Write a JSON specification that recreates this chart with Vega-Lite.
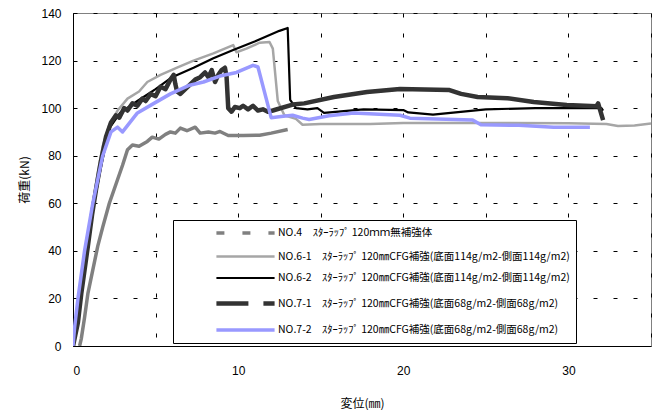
{
  "$schema": "https://vega.github.io/schema/vega-lite/v6.json",
  "width": 578,
  "height": 333,
  "autosize": "none",
  "padding": {"left": 73, "top": 13, "right": 3, "bottom": 64},
  "background": "white",
  "config": {
    "view": {"stroke": "#808080", "strokeWidth": 1},
    "axis": {
      "grid": true,
      "gridColor": "#000000",
      "gridDash": [4, 16],
      "gridWidth": 1,
      "gridOpacity": 1,
      "ticks": false,
      "tickSize": 0,
      "domainColor": "#000000",
      "domainWidth": 1,
      "labelFont": "Liberation Sans",
      "labelFontSize": 12,
      "labelColor": "#000000",
      "titleFont": "Noto Sans CJK JP",
      "titleFontSize": 12,
      "titleFontWeight": "normal",
      "titleColor": "#000000"
    }
  },
  "data": {
    "values": [
      {"s": "NO.4", "x": 0.4, "y": 0},
      {"s": "NO.4", "x": 0.5, "y": 3},
      {"s": "NO.4", "x": 0.7, "y": 12},
      {"s": "NO.4", "x": 0.9, "y": 22},
      {"s": "NO.4", "x": 1.2, "y": 32},
      {"s": "NO.4", "x": 1.5, "y": 42},
      {"s": "NO.4", "x": 1.8, "y": 50},
      {"s": "NO.4", "x": 2.2, "y": 60},
      {"s": "NO.4", "x": 2.6, "y": 68},
      {"s": "NO.4", "x": 3.0, "y": 76},
      {"s": "NO.4", "x": 3.3, "y": 82.5},
      {"s": "NO.4", "x": 3.6, "y": 84.5},
      {"s": "NO.4", "x": 4.0, "y": 84},
      {"s": "NO.4", "x": 4.5, "y": 86},
      {"s": "NO.4", "x": 4.8, "y": 87.8},
      {"s": "NO.4", "x": 5.2, "y": 87},
      {"s": "NO.4", "x": 5.6, "y": 89},
      {"s": "NO.4", "x": 5.9, "y": 90},
      {"s": "NO.4", "x": 6.2, "y": 89.5},
      {"s": "NO.4", "x": 6.5, "y": 91.6},
      {"s": "NO.4", "x": 6.9, "y": 90.5},
      {"s": "NO.4", "x": 7.4, "y": 92},
      {"s": "NO.4", "x": 7.7, "y": 89.5},
      {"s": "NO.4", "x": 8.2, "y": 90},
      {"s": "NO.4", "x": 8.6, "y": 89.5},
      {"s": "NO.4", "x": 8.9, "y": 90.2},
      {"s": "NO.4", "x": 9.4, "y": 88.5},
      {"s": "NO.4", "x": 10.3, "y": 88.5},
      {"s": "NO.4", "x": 11.3, "y": 88.6},
      {"s": "NO.4", "x": 12.0, "y": 89.5},
      {"s": "NO.4", "x": 13.0, "y": 91},

      {"s": "NO.6-1", "x": 0, "y": 0},
      {"s": "NO.6-1", "x": 0.2, "y": 10},
      {"s": "NO.6-1", "x": 0.4, "y": 22},
      {"s": "NO.6-1", "x": 0.6, "y": 33},
      {"s": "NO.6-1", "x": 0.9, "y": 46},
      {"s": "NO.6-1", "x": 1.2, "y": 60},
      {"s": "NO.6-1", "x": 1.5, "y": 73},
      {"s": "NO.6-1", "x": 1.8, "y": 84},
      {"s": "NO.6-1", "x": 2.2, "y": 93},
      {"s": "NO.6-1", "x": 2.7, "y": 99},
      {"s": "NO.6-1", "x": 3.3, "y": 104},
      {"s": "NO.6-1", "x": 4.0, "y": 107},
      {"s": "NO.6-1", "x": 4.5, "y": 111},
      {"s": "NO.6-1", "x": 5.3, "y": 114},
      {"s": "NO.6-1", "x": 6.3, "y": 117},
      {"s": "NO.6-1", "x": 7.3, "y": 120},
      {"s": "NO.6-1", "x": 8.5, "y": 123},
      {"s": "NO.6-1", "x": 9.7, "y": 126.5},
      {"s": "NO.6-1", "x": 9.9, "y": 123.5},
      {"s": "NO.6-1", "x": 10.5, "y": 125},
      {"s": "NO.6-1", "x": 11.3, "y": 127.5},
      {"s": "NO.6-1", "x": 11.9, "y": 127.8},
      {"s": "NO.6-1", "x": 12.1, "y": 125},
      {"s": "NO.6-1", "x": 12.4, "y": 103},
      {"s": "NO.6-1", "x": 12.8, "y": 97},
      {"s": "NO.6-1", "x": 13.5, "y": 95.5},
      {"s": "NO.6-1", "x": 13.9, "y": 93},
      {"s": "NO.6-1", "x": 15, "y": 93.3},
      {"s": "NO.6-1", "x": 18, "y": 93.3},
      {"s": "NO.6-1", "x": 20, "y": 93.8},
      {"s": "NO.6-1", "x": 25, "y": 93.8},
      {"s": "NO.6-1", "x": 30, "y": 93.6},
      {"s": "NO.6-1", "x": 32.3, "y": 93.3},
      {"s": "NO.6-1", "x": 33, "y": 92.5},
      {"s": "NO.6-1", "x": 34, "y": 92.7},
      {"s": "NO.6-1", "x": 35, "y": 93.5},

      {"s": "NO.6-2", "x": 0, "y": 0},
      {"s": "NO.6-2", "x": 0.2, "y": 10},
      {"s": "NO.6-2", "x": 0.4, "y": 22},
      {"s": "NO.6-2", "x": 0.55, "y": 30},
      {"s": "NO.6-2", "x": 0.85, "y": 42},
      {"s": "NO.6-2", "x": 1.1, "y": 52},
      {"s": "NO.6-2", "x": 1.33, "y": 62},
      {"s": "NO.6-2", "x": 1.6, "y": 72},
      {"s": "NO.6-2", "x": 1.9, "y": 82},
      {"s": "NO.6-2", "x": 2.25, "y": 92},
      {"s": "NO.6-2", "x": 2.85, "y": 98},
      {"s": "NO.6-2", "x": 3.9, "y": 103},
      {"s": "NO.6-2", "x": 5.0, "y": 108},
      {"s": "NO.6-2", "x": 6.0, "y": 113},
      {"s": "NO.6-2", "x": 7.3, "y": 117},
      {"s": "NO.6-2", "x": 8.5, "y": 121},
      {"s": "NO.6-2", "x": 9.7, "y": 124.4},
      {"s": "NO.6-2", "x": 11, "y": 128},
      {"s": "NO.6-2", "x": 12.5, "y": 132.5},
      {"s": "NO.6-2", "x": 13.0, "y": 133.7},
      {"s": "NO.6-2", "x": 13.15, "y": 103.5},
      {"s": "NO.6-2", "x": 13.5, "y": 100},
      {"s": "NO.6-2", "x": 14.2, "y": 99.5},
      {"s": "NO.6-2", "x": 14.8, "y": 100},
      {"s": "NO.6-2", "x": 15.2, "y": 98},
      {"s": "NO.6-2", "x": 17.6, "y": 99.5},
      {"s": "NO.6-2", "x": 20, "y": 99.2},
      {"s": "NO.6-2", "x": 20.3, "y": 98.2},
      {"s": "NO.6-2", "x": 21.8, "y": 97.3},
      {"s": "NO.6-2", "x": 25, "y": 99.5},
      {"s": "NO.6-2", "x": 28, "y": 100},
      {"s": "NO.6-2", "x": 32, "y": 100},
      {"s": "NO.6-2", "x": 32.1, "y": 99},

      {"s": "NO.7-1", "x": 0, "y": 0},
      {"s": "NO.7-1", "x": 0.3, "y": 10},
      {"s": "NO.7-1", "x": 0.5, "y": 22},
      {"s": "NO.7-1", "x": 0.7, "y": 32},
      {"s": "NO.7-1", "x": 0.9, "y": 42},
      {"s": "NO.7-1", "x": 1.15, "y": 55},
      {"s": "NO.7-1", "x": 1.4, "y": 66},
      {"s": "NO.7-1", "x": 1.7, "y": 78},
      {"s": "NO.7-1", "x": 2.0, "y": 88},
      {"s": "NO.7-1", "x": 2.3, "y": 94},
      {"s": "NO.7-1", "x": 2.6, "y": 97},
      {"s": "NO.7-1", "x": 2.8, "y": 96},
      {"s": "NO.7-1", "x": 3.1, "y": 100},
      {"s": "NO.7-1", "x": 3.3, "y": 99},
      {"s": "NO.7-1", "x": 3.6, "y": 102},
      {"s": "NO.7-1", "x": 3.9, "y": 101},
      {"s": "NO.7-1", "x": 4.2, "y": 104},
      {"s": "NO.7-1", "x": 4.4, "y": 103},
      {"s": "NO.7-1", "x": 4.7, "y": 106},
      {"s": "NO.7-1", "x": 5.0, "y": 105},
      {"s": "NO.7-1", "x": 5.3, "y": 109},
      {"s": "NO.7-1", "x": 5.6, "y": 108},
      {"s": "NO.7-1", "x": 5.9, "y": 112},
      {"s": "NO.7-1", "x": 6.1, "y": 114},
      {"s": "NO.7-1", "x": 6.2, "y": 110},
      {"s": "NO.7-1", "x": 6.3, "y": 107},
      {"s": "NO.7-1", "x": 6.5, "y": 106},
      {"s": "NO.7-1", "x": 6.8, "y": 108},
      {"s": "NO.7-1", "x": 7.1, "y": 110},
      {"s": "NO.7-1", "x": 7.4, "y": 112},
      {"s": "NO.7-1", "x": 7.7, "y": 113},
      {"s": "NO.7-1", "x": 8.0, "y": 115},
      {"s": "NO.7-1", "x": 8.2, "y": 113},
      {"s": "NO.7-1", "x": 8.4, "y": 116},
      {"s": "NO.7-1", "x": 8.6, "y": 111},
      {"s": "NO.7-1", "x": 8.8, "y": 114},
      {"s": "NO.7-1", "x": 9.0, "y": 116},
      {"s": "NO.7-1", "x": 9.2, "y": 117},
      {"s": "NO.7-1", "x": 9.3, "y": 113},
      {"s": "NO.7-1", "x": 9.4, "y": 100},
      {"s": "NO.7-1", "x": 9.6, "y": 98.5},
      {"s": "NO.7-1", "x": 9.8, "y": 100.5},
      {"s": "NO.7-1", "x": 10.1, "y": 100},
      {"s": "NO.7-1", "x": 10.3, "y": 101},
      {"s": "NO.7-1", "x": 10.6, "y": 99.5},
      {"s": "NO.7-1", "x": 10.9, "y": 101},
      {"s": "NO.7-1", "x": 11.2, "y": 99},
      {"s": "NO.7-1", "x": 11.5, "y": 99.5},
      {"s": "NO.7-1", "x": 11.8, "y": 98.5},
      {"s": "NO.7-1", "x": 12.1, "y": 99},
      {"s": "NO.7-1", "x": 13.3, "y": 101.5},
      {"s": "NO.7-1", "x": 14, "y": 102},
      {"s": "NO.7-1", "x": 15.8, "y": 104.7},
      {"s": "NO.7-1", "x": 17.8, "y": 106.8},
      {"s": "NO.7-1", "x": 19.8, "y": 108},
      {"s": "NO.7-1", "x": 22.8, "y": 107.6},
      {"s": "NO.7-1", "x": 23.5, "y": 106},
      {"s": "NO.7-1", "x": 24.5, "y": 104.7},
      {"s": "NO.7-1", "x": 26.3, "y": 104.2},
      {"s": "NO.7-1", "x": 27.9, "y": 102.6},
      {"s": "NO.7-1", "x": 29.9, "y": 101.3},
      {"s": "NO.7-1", "x": 31.7, "y": 100.8},
      {"s": "NO.7-1", "x": 31.8, "y": 102},
      {"s": "NO.7-1", "x": 32.1, "y": 95},

      {"s": "NO.7-2", "x": 0, "y": 0},
      {"s": "NO.7-2", "x": 0.1, "y": 8},
      {"s": "NO.7-2", "x": 0.3, "y": 20},
      {"s": "NO.7-2", "x": 0.7, "y": 40},
      {"s": "NO.7-2", "x": 1.2, "y": 60},
      {"s": "NO.7-2", "x": 1.8, "y": 80},
      {"s": "NO.7-2", "x": 2.3, "y": 90},
      {"s": "NO.7-2", "x": 2.7, "y": 92},
      {"s": "NO.7-2", "x": 3.0, "y": 90},
      {"s": "NO.7-2", "x": 3.9, "y": 98},
      {"s": "NO.7-2", "x": 4.9, "y": 102},
      {"s": "NO.7-2", "x": 5.9, "y": 106},
      {"s": "NO.7-2", "x": 7.0, "y": 109.5},
      {"s": "NO.7-2", "x": 7.9, "y": 111},
      {"s": "NO.7-2", "x": 8.9, "y": 113.5},
      {"s": "NO.7-2", "x": 9.9, "y": 115},
      {"s": "NO.7-2", "x": 10.9, "y": 118},
      {"s": "NO.7-2", "x": 11.2, "y": 117.3},
      {"s": "NO.7-2", "x": 12.0, "y": 96},
      {"s": "NO.7-2", "x": 12.6, "y": 96.5},
      {"s": "NO.7-2", "x": 13.3, "y": 97},
      {"s": "NO.7-2", "x": 13.9, "y": 95.8},
      {"s": "NO.7-2", "x": 14.3, "y": 95.2},
      {"s": "NO.7-2", "x": 15.5, "y": 96.8},
      {"s": "NO.7-2", "x": 17, "y": 98},
      {"s": "NO.7-2", "x": 19.8, "y": 97},
      {"s": "NO.7-2", "x": 20.4, "y": 95.8},
      {"s": "NO.7-2", "x": 24.2, "y": 95},
      {"s": "NO.7-2", "x": 24.7, "y": 93},
      {"s": "NO.7-2", "x": 27, "y": 92.8},
      {"s": "NO.7-2", "x": 29.1, "y": 92},
      {"s": "NO.7-2", "x": 31.3, "y": 92}
    ]
  },
  "mark": {"type": "line", "strokeJoin": "round", "clip": true},
  "encoding": {
    "x": {
      "field": "x",
      "type": "quantitative",
      "scale": {"domain": [0, 35], "nice": false},
      "axis": {
        "title": "変位(㎜)",
        "values": [0, 5, 10, 15, 20, 25, 30, 35],
        "labelExpr": "datum.value % 10 === 0 ? datum.label : ''",
        "labelPadding": 19,
        "titlePadding": 22
      }
    },
    "y": {
      "field": "y",
      "type": "quantitative",
      "scale": {"domain": [0, 140], "nice": false},
      "axis": {
        "title": "荷重(kN)",
        "values": [0, 20, 40, 60, 80, 100, 120, 140],
        "labelPadding": 12,
        "titlePadding": 9
      }
    },
    "color": {
      "field": "s",
      "type": "nominal",
      "scale": {
        "domain": ["NO.4", "NO.6-1", "NO.6-2", "NO.7-1", "NO.7-2"],
        "range": ["#808080", "#a6a6a6", "#000000", "#333333", "#9999ff"]
      },
      "legend": {
        "title": null,
        "orient": "none",
        "legendX": 100,
        "legendY": 207,
        "strokeColor": "#000000",
        "fillColor": "#ffffff",
        "padding": 6,
        "rowPadding": 10,
        "symbolType": "M-6,0H6",
        "symbolSize": 94,
        "symbolOffset": 59,
        "labelOffset": 25,
        "labelFont": "Noto Sans CJK JP",
        "labelFontSize": 10.5,
        "labelColor": "#000000",
        "labelLimit": 0,
        "labelExpr": "{'NO.4': 'NO.4　ｽﾀｰﾗｯﾌﾟ 120ｍｍ無補強体', 'NO.6-1': 'NO.6-1　ｽﾀｰﾗｯﾌﾟ 120㎜CFG補強(底面114g/m2-側面114g/m2)　　　', 'NO.6-2': 'NO.6-2　ｽﾀｰﾗｯﾌﾟ 120㎜CFG補強(底面114g/m2-側面114g/m2)', 'NO.7-1': 'NO.7-1　ｽﾀｰﾗｯﾌﾟ 120㎜CFG補強(底面68g/m2-側面68g/m2)', 'NO.7-2': 'NO.7-2　ｽﾀｰﾗｯﾌﾟ 120㎜CFG補強(底面68g/m2-側面68g/m2)'}[datum.label]",
        "encode": {
          "symbols": {
            "update": {
              "strokeWidth": {"signal": "{'NO.4': 4, 'NO.6-1': 2.5, 'NO.6-2': 3, 'NO.7-1': 5, 'NO.7-2': 4}[datum.value]"},
              "strokeDash": {"signal": "{'NO.4': [8, 18], 'NO.6-1': [], 'NO.6-2': [], 'NO.7-1': [32, 15], 'NO.7-2': []}[datum.value]"},
              "fill": {"value": "transparent"}
            }
          }
        }
      }
    },
    "strokeWidth": {
      "field": "s",
      "type": "nominal",
      "scale": {
        "type": "ordinal",
        "domain": ["NO.4", "NO.6-1", "NO.6-2", "NO.7-1", "NO.7-2"],
        "range": [3.5, 2.5, 2.2, 4.5, 3.5]
      },
      "legend": null
    }
  }
}
